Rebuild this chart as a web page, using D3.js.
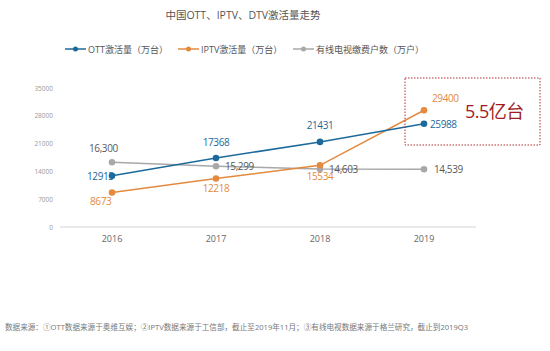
<!DOCTYPE html>
<html>
<head>
<meta charset="utf-8">
<script src="https://cdn.jsdelivr.net/npm/d3@7"></script>
<style>
  body { margin: 0; background: #fff; }
  svg { display: block; font-family: "Open Sans", "Noto Sans CJK SC", sans-serif; }
</style>
</head>
<body>
<svg id="chart" width="550" height="351"></svg>
<script>
const years = ["2016", "2017", "2018", "2019"];
const ottValues = [12913, 17368, 21431, 25988];
const iptvValues = [8673, 12218, 15534, 29400];
const cableValues = [16300, 15299, 14603, 14539];
const cableLabels = ["16,300", "15,299", "14,603", "14,539"];
const yTicks = [0, 7000, 14000, 21000, 28000, 35000];

const svg = d3.select("#chart");

const x = d3.scalePoint().domain(years).range([60, 476]).padding(0.5);
const y = d3.scaleLinear().domain([0, 35000]).range([227, 88]);

// title
svg.append("text")
  .attr("x", 243).attr("y", 19)
  .attr("text-anchor", "middle")
  .style("font-size", "10.5px")
  .style("fill", "#555")
  .text("中国OTT、IPTV、DTV激活量走势");

// baseline + axis labels
svg.append("line")
  .attr("x1", 60).attr("x2", 476)
  .attr("y1", y(0)).attr("y2", y(0))
  .style("stroke", "#e2e2e2").style("stroke-width", 1.5);

svg.selectAll(".ytick")
  .data(yTicks)
  .enter().append("text")
  .attr("x", 53).attr("y", (d) => y(d) + 2.5)
  .attr("text-anchor", "end")
  .style("font-size", "6.5px")
  .style("fill", "#999")
  .text((d) => d);

svg.selectAll(".xtick")
  .data(years)
  .enter().append("text")
  .attr("x", (d) => x(d)).attr("y", 242)
  .attr("text-anchor", "middle")
  .style("font-size", "9px")
  .style("fill", "#666")
  .text((d) => d);

const series = [
  { name: "OTT激活量（万台）", values: ottValues, color: "#1c6a9b", lx: 65 },
  { name: "IPTV激活量（万台）", values: iptvValues, color: "#e38a3f", lx: 178 },
  { name: "有线电视缴费户数（万户）", values: cableValues, color: "#a8a8a8", lx: 293 }
];

const line = d3.line()
  .x((d, i) => x(years[i]))
  .y((d) => y(d));

// gray first so the coloured lines sit on top
[series[2], series[1], series[0]].forEach((s) => {
  svg.append("path")
    .attr("d", line(s.values))
    .style("fill", "none")
    .style("stroke", s.color)
    .style("stroke-width", 1.5);
  svg.selectAll(null)
    .data(s.values)
    .enter().append("circle")
    .attr("cx", (d, i) => x(years[i]))
    .attr("cy", (d) => y(d))
    .attr("r", 3.3)
    .style("fill", s.color);
});

// legend
series.forEach((s) => {
  const g = svg.append("g").attr("transform", `translate(${s.lx},49)`);
  g.append("line").attr("x1", 0).attr("x2", 21).attr("y1", 0).attr("y2", 0)
    .style("stroke", s.color).style("stroke-width", 1.5);
  g.append("circle").attr("cx", 10.5).attr("cy", 0).attr("r", 2.5).style("fill", s.color);
  g.append("text").attr("x", 23).attr("y", 3.5)
    .style("font-size", "9px").style("fill", "#555")
    .text(s.name);
});

// data labels: [dx, dy, anchor]
const ottPos = [[-25, 4, "start"], [0, -12, "middle"], [0, -13, "middle"], [6, 4, "start"]];
const iptvPos = [[-22, 12, "start"], [0, 14, "middle"], [0, 15, "middle"], [8, -8, "start"]];
const cablePos = [[-23, -10, "start"], [9, 4, "start"], [9, 4, "start"], [10, 4, "start"]];

function addLabels(vals, texts, pos, color) {
  svg.selectAll(null)
    .data(vals)
    .enter().append("text")
    .attr("x", (d, i) => x(years[i]) + pos[i][0])
    .attr("y", (d, i) => y(d) + pos[i][1])
    .attr("text-anchor", (d, i) => pos[i][2])
    .style("font-size", "10px")
    .style("letter-spacing", "-0.4px")
    .style("fill", color)
    .text((d, i) => texts[i]);
}
addLabels(ottValues, ottValues.map(String), ottPos, "#1c6a9b");
addLabels(iptvValues, iptvValues.map(String), iptvPos, "#e38a3f");
addLabels(cableValues, cableLabels, cablePos, "#595959");

// annotation box
svg.append("rect")
  .attr("x", 405).attr("y", 78).attr("width", 135).attr("height", 67)
  .style("fill", "none")
  .style("stroke", "#b03030")
  .style("stroke-width", 1)
  .style("stroke-dasharray", "1.5,1.5");
svg.append("text")
  .attr("x", 465).attr("y", 118)
  .style("font-size", "18px")
  .style("fill", "#9e1b22")
  .style("letter-spacing", "-0.5px")
  .text("5.5亿台");

// footnote
svg.append("text")
  .attr("x", 5).attr("y", 330)
  .style("font-size", "7.6px")
  .style("fill", "#777")
  .text("数据来源：①OTT数据来源于奥维互娱；②IPTV数据来源于工信部，截止至2019年11月；③有线电视数据来源于格兰研究，截止到2019Q3");
</script>
</body>
</html>
